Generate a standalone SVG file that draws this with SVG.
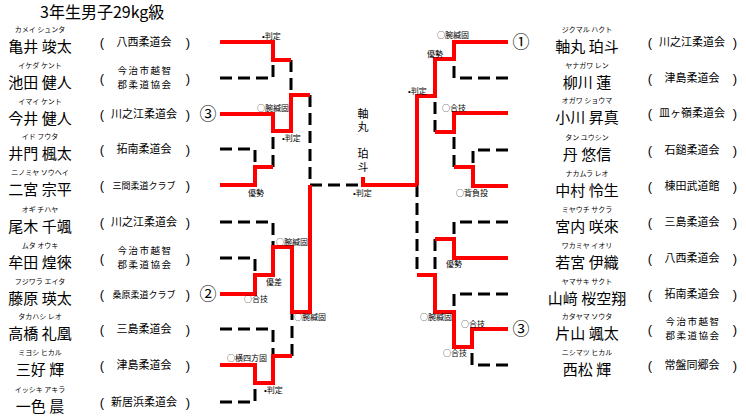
<svg xmlns="http://www.w3.org/2000/svg" width="746" height="419" viewBox="0 0 746 419">
<style>
text{font-family:"Noto Sans CJK JP","Noto Sans CJK SC",sans-serif;fill:#000}
.title{font-size:16px}
.kana{font-size:7px;text-anchor:middle}
.name{font-size:15px;text-anchor:middle}
.club{font-size:11px;text-anchor:middle}
.club2{font-size:9.5px;letter-spacing:1.5px;text-anchor:middle}
.clubk{font-size:9px;text-anchor:middle}
.par{font-size:13px;text-anchor:middle;font-family:"Liberation Sans","Noto Sans CJK JP",sans-serif}
.lbl{font-size:8px}
.bul{font-family:"Liberation Sans",sans-serif}
.rank{font-size:17px;text-anchor:middle}
.vt{font-size:11px;writing-mode:vertical-rl;text-anchor:start;letter-spacing:2px}
.win{fill:none;stroke:#ff0000;stroke-width:4;stroke-linejoin:miter;stroke-linecap:butt}
.lose{fill:none;stroke:#000;stroke-width:3;stroke-dasharray:12 6}
</style>
<rect width="746" height="419" fill="#fff"/>
<text class="title" x="40" y="18">3年生男子29kg級</text>

<g id="connectors">
<g id="losers">
<path class="lose" d="M220,78 H273 V60"/>
<path class="lose" d="M291,60 V95"/>
<path class="lose" d="M220,149 H255 V167"/>
<path class="lose" d="M273,167 V131"/>
<path class="lose" d="M310,95 V185"/>
<path class="lose" d="M310,185 H363"/>
<path class="lose" d="M220,222 H273 V247"/>
<path class="lose" d="M220,258 H255 V275"/>
<path class="lose" d="M220,329 H273 V356"/>
<path class="lose" d="M292,356 V312"/>
<path class="lose" d="M220,402 H255 V383"/>
<path class="lose" d="M508,78 H454 V59"/>
<path class="lose" d="M435,132 V96"/>
<path class="lose" d="M508,150 H473 V167"/>
<path class="lose" d="M454,167 V132"/>
<path class="lose" d="M417,185 V275"/>
<path class="lose" d="M508,222 H454 V239"/>
<path class="lose" d="M435,239 V275"/>
<path class="lose" d="M508,294 H454 V312"/>
<path class="lose" d="M508,365 H472 V347"/>
</g>
<g id="winners">
<path class="win" d="M220,42 H273 V60 H291"/>
<path class="win" d="M220,114 H273 V131 H291 V95 H310"/>
<path class="win" d="M220,185 H255 V167 H273"/>
<path class="win" d="M220,294 H255 V275 H273 V247 H292 V312 H310 V185"/>
<path class="win" d="M220,365 H255 V383 H273 V356 H292"/>
<path class="win" d="M417,185 H363 V177"/>
<path class="win" d="M508,42 H454 V59 H435 V96 H417 V185"/>
<path class="win" d="M508,113 H454 V132 H435"/>
<path class="win" d="M508,186 H473 V167 H454"/>
<path class="win" d="M508,258 H454 V239 H435"/>
<path class="win" d="M508,329 H472 V347 H454 V312 H435 V275 H417"/>
</g>
</g>

<g id="labels">
<text class="lbl" x="262" y="39"><tspan class="bul">•</tspan>判定</text>
<text class="lbl" x="257" y="111">○腕緘固</text>
<text class="lbl" x="282" y="141"><tspan class="bul">•</tspan>判定</text>
<text class="lbl" x="248" y="196">優勢</text>
<text class="lbl" x="276" y="245">○腕緘固</text>
<text class="lbl" x="266" y="285">優差</text>
<text class="lbl" x="244" y="302">○合技</text>
<text class="lbl" x="294" y="320">○腕緘固</text>
<text class="lbl" x="227" y="361">○横四方固</text>
<text class="lbl" x="264" y="393"><tspan class="bul">•</tspan>判定</text>
<text class="lbl" x="353" y="196"><tspan class="bul">•</tspan>判定</text>
<text class="lbl" x="437" y="38">○腕緘固</text>
<text class="lbl" x="427" y="57">優勢</text>
<text class="lbl" x="408" y="94"><tspan class="bul">•</tspan>判定</text>
<text class="lbl" x="442" y="111">○合技</text>
<text class="lbl" x="456" y="196">○背負投</text>
<text class="lbl" x="446" y="267">優勢</text>
<text class="lbl" x="420" y="320">○腕緘固</text>
<text class="lbl" x="461" y="327">○合技</text>
<text class="lbl" x="443" y="356">○合技</text>
</g>

<g id="champion">
<text class="vt" x="363" y="108">軸丸</text>
<text class="vt" x="363" y="148">珀斗</text>
</g>

<g id="ranks">
<text class="rank" x="208" y="120">③</text>
<text class="rank" x="208" y="300">②</text>
<text class="rank" x="521" y="48">①</text>
<text class="rank" x="521" y="335">③</text>
</g>

<g id="left-entries">
<g id="L0"><text class="kana" x="40" y="32">カメイ シュンタ</text><text class="name" x="40" y="52">亀井 竣太</text><text class="par" x="102" y="47">(</text><text class="club" x="144" y="46">八西柔道会</text><text class="par" x="188" y="47">)</text></g>
<g id="L1"><text class="kana" x="40" y="68">イケダ ケント</text><text class="name" x="40" y="88">池田 健人</text><text class="par" x="102" y="83">(</text><text class="club2" x="145" y="74">今治市越智</text><text class="club2" x="145" y="88">郡柔道協会</text><text class="par" x="188" y="83">)</text></g>
<g id="L2"><text class="kana" x="40" y="104">イマイ ケント</text><text class="name" x="40" y="124">今井 健人</text><text class="par" x="102" y="119">(</text><text class="club" x="144" y="118">川之江柔道会</text><text class="par" x="188" y="119">)</text></g>
<g id="L3"><text class="kana" x="40" y="139">イド フウタ</text><text class="name" x="40" y="159">井門 楓太</text><text class="par" x="102" y="154">(</text><text class="club" x="144" y="153">拓南柔道会</text><text class="par" x="188" y="154">)</text></g>
<g id="L4"><text class="kana" x="40" y="175">ニノミヤ ソウヘイ</text><text class="name" x="40" y="195">二宮 宗平</text><text class="par" x="102" y="190">(</text><text class="clubk" x="144" y="189">三間柔道クラブ</text><text class="par" x="188" y="190">)</text></g>
<g id="L5"><text class="kana" x="40" y="212">オギ チハヤ</text><text class="name" x="40" y="232">尾木 千颯</text><text class="par" x="102" y="227">(</text><text class="club" x="144" y="226">川之江柔道会</text><text class="par" x="188" y="227">)</text></g>
<g id="L6"><text class="kana" x="40" y="248">ムタ オウキ</text><text class="name" x="40" y="268">牟田 煌徠</text><text class="par" x="102" y="263">(</text><text class="club2" x="145" y="254">今治市越智</text><text class="club2" x="145" y="268">郡柔道協会</text><text class="par" x="188" y="263">)</text></g>
<g id="L7"><text class="kana" x="40" y="284">フジワラ エイタ</text><text class="name" x="40" y="304">藤原 瑛太</text><text class="par" x="102" y="299">(</text><text class="clubk" x="144" y="298">桑原柔道クラブ</text><text class="par" x="188" y="299">)</text></g>
<g id="L8"><text class="kana" x="40" y="319">タカハシ レオ</text><text class="name" x="40" y="339">高橋 礼凰</text><text class="par" x="102" y="334">(</text><text class="club" x="144" y="333">三島柔道会</text><text class="par" x="188" y="334">)</text></g>
<g id="L9"><text class="kana" x="40" y="355">ミヨシ ヒカル</text><text class="name" x="40" y="375">三好 輝</text><text class="par" x="102" y="370">(</text><text class="club" x="144" y="369">津島柔道会</text><text class="par" x="188" y="370">)</text></g>
<g id="L10"><text class="kana" x="40" y="392">イッシキ アキラ</text><text class="name" x="40" y="412">一色 晨</text><text class="par" x="102" y="407">(</text><text class="club" x="144" y="406">新居浜柔道会</text><text class="par" x="188" y="407">)</text></g>
</g>

<g id="right-entries">
<g id="R0"><text class="kana" x="587" y="32">ジクマル ハクト</text><text class="name" x="587" y="52">軸丸 珀斗</text><text class="par" x="650" y="47">(</text><text class="club" x="692" y="46">川之江柔道会</text><text class="par" x="735" y="47">)</text></g>
<g id="R1"><text class="kana" x="587" y="68">ヤナガワ レン</text><text class="name" x="587" y="88">柳川 蓮</text><text class="par" x="650" y="83">(</text><text class="club" x="692" y="82">津島柔道会</text><text class="par" x="735" y="83">)</text></g>
<g id="R2"><text class="kana" x="587" y="103">オガワ ショウマ</text><text class="name" x="587" y="123">小川 昇真</text><text class="par" x="650" y="118">(</text><text class="club" x="692" y="117">皿ヶ嶺柔道会</text><text class="par" x="735" y="118">)</text></g>
<g id="R3"><text class="kana" x="587" y="140">タン ユウシン</text><text class="name" x="587" y="160">丹 悠信</text><text class="par" x="650" y="155">(</text><text class="club" x="692" y="154">石鎚柔道会</text><text class="par" x="735" y="155">)</text></g>
<g id="R4"><text class="kana" x="587" y="176">ナカムラ レオ</text><text class="name" x="587" y="196">中村 怜生</text><text class="par" x="650" y="191">(</text><text class="club" x="692" y="190">棟田武道館</text><text class="par" x="735" y="191">)</text></g>
<g id="R5"><text class="kana" x="587" y="212">ミヤウチ サクラ</text><text class="name" x="587" y="232">宮内 咲來</text><text class="par" x="650" y="227">(</text><text class="club" x="692" y="226">三島柔道会</text><text class="par" x="735" y="227">)</text></g>
<g id="R6"><text class="kana" x="587" y="248">ワカミヤ イオリ</text><text class="name" x="587" y="268">若宮 伊織</text><text class="par" x="650" y="263">(</text><text class="club" x="692" y="262">八西柔道会</text><text class="par" x="735" y="263">)</text></g>
<g id="R7"><text class="kana" x="587" y="284">ヤマサキ サクト</text><text class="name" x="587" y="304">山﨑 桜空翔</text><text class="par" x="650" y="299">(</text><text class="club" x="692" y="298">拓南柔道会</text><text class="par" x="735" y="299">)</text></g>
<g id="R8"><text class="kana" x="587" y="319">カタヤマ ソウタ</text><text class="name" x="587" y="339">片山 颯太</text><text class="par" x="650" y="334">(</text><text class="club2" x="693" y="325">今治市越智</text><text class="club2" x="693" y="339">郡柔道協会</text><text class="par" x="735" y="334">)</text></g>
<g id="R9"><text class="kana" x="587" y="355">ニシマツ ヒカル</text><text class="name" x="587" y="375">西松 輝</text><text class="par" x="650" y="370">(</text><text class="club" x="692" y="369">常盤同郷会</text><text class="par" x="735" y="370">)</text></g>
</g>
</svg>
